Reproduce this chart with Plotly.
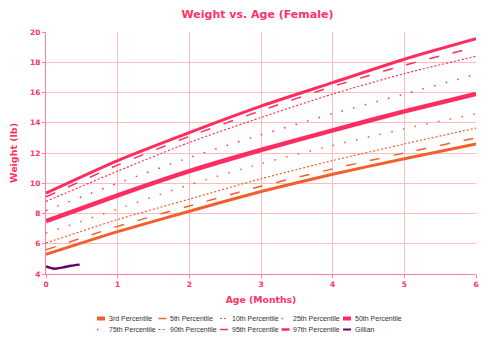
import plotly.graph_objects as go

months = [0, 1, 2, 3, 4, 5, 6]
p3 = [5.3, 6.8, 8.15, 9.45, 10.6, 11.62, 12.6]
p5 = [5.6, 7.15, 8.5, 9.8, 10.95, 12.0, 13.0]
p10 = [6.05, 7.6, 8.95, 10.3, 11.5, 12.6, 13.65]
p25 = [6.7, 8.3, 9.9, 11.3, 12.5, 13.6, 14.6]
p50 = [7.5, 9.2, 10.8, 12.2, 13.5, 14.75, 15.9]
p75 = [8.2, 10.0, 11.7, 13.2, 14.6, 15.9, 17.2]
p90 = [8.8, 10.8, 12.7, 14.35, 15.9, 17.25, 18.4]
p95 = [9.1, 11.2, 13.1, 14.8, 16.4, 17.8, 19.0]
p97 = [9.35, 11.5, 13.35, 15.1, 16.65, 18.2, 19.55]

gillian_age = [0, 0.05, 0.1, 0.15, 0.25, 0.35, 0.47]
gillian_wt = [4.5, 4.42, 4.36, 4.36, 4.45, 4.55, 4.62]

ORANGE = "#f0602e"
PINK = "#ff2d5f"
PURPLE = "#660066"
TXT = "#ff3366"

series = [
    ("3rd Percentile", months, p3, ORANGE, 3, "solid"),
    ("5th Percentile", months, p5, ORANGE, 1.5, "10px,14px"),
    ("10th Percentile", months, p10, ORANGE, 1.2, "2px,2px"),
    ("25th Percentile", months, p25, ORANGE, 1.5, "1.5px,10.5px"),
    ("50th Percentile", months, p50, PINK, 4.5, "solid"),
    ("75th Percentile", months, p75, PINK, 1.5, "1.5px,10.5px"),
    ("90th Percentile", months, p90, PINK, 1.2, "2px,2px"),
    ("95th Percentile", months, p95, PINK, 1.5, "10px,14px"),
    ("97th Percentile", months, p97, PINK, 3, "solid"),
    ("Gillian", gillian_age, gillian_wt, PURPLE, 2.5, "solid"),
]

# legend symbol styles (width in legend)
legend_w = [4, 1.5, 1.2, 1.5, 4, 1.5, 1.2, 1.5, 2.5, 2]

L, R, T, B = 46, 24, 32, 73
W, H = 500, 347
PW, PH = W - L - R, H - T - B

fig = go.Figure()
for name, xs, ys, col, w, dash in series:
    fig.add_trace(go.Scatter(x=xs, y=ys, mode="lines", name=name, showlegend=False,
                             line=dict(color=col, width=w, dash=dash, shape="spline", smoothing=0.6)))

# custom legend (2 rows x 5 columns) below the plot
col_x = [97, 158.5, 220, 281.5, 343]
row_y = [318.5, 329.5]
shapes, annots = [], []
px = lambda v: (v - L) / PW
py = lambda v: (H - B - v) / PH
for i, (name, xs, ys, col, w, dash) in enumerate(series):
    cx = col_x[i % 5]
    cy = row_y[i // 5]
    if dash.startswith("1.5px"):
        x0, x1 = cx, cx + 1.5
    else:
        x0, x1 = cx, cx + 8
    shapes.append(dict(type="line", xref="paper", yref="paper",
                       x0=px(x0), x1=px(x1), y0=py(cy), y1=py(cy),
                       line=dict(color=col, width=legend_w[i],
                                 dash="solid" if dash.startswith("1.5px") or dash.startswith("10px") else dash)))
    annots.append(dict(text=name, xref="paper", yref="paper", x=px(cx + 9.5), y=py(cy),
                       xanchor="left", yanchor="middle", showarrow=False,
                       font=dict(family="Liberation Sans", size=7, color="#333333")))

tickfont = dict(family="DejaVu Sans", size=7.5, color=TXT, weight="bold")
fig.update_layout(
    width=W, height=H,
    margin=dict(l=L, r=R, t=T, b=B),
    paper_bgcolor="white", plot_bgcolor="white",
    showlegend=False,
    title=dict(text="<b>Weight vs. Age (Female)</b>", x=0.515, xanchor="center", y=0.958, yanchor="middle",
               font=dict(family="DejaVu Sans", size=11, color=TXT)),
    xaxis=dict(range=[0, 6], dtick=1, showgrid=True, gridcolor="#ffbcbc", gridwidth=1,
               showline=True, linecolor="#ff8099", linewidth=1, zeroline=False,
               ticks="outside", ticklen=3, tickcolor="#ff8099", tickfont=tickfont,
               title=dict(text="<b>Age (Months)</b>", font=dict(family="DejaVu Sans", size=9.3, color=TXT), standoff=8)),
    yaxis=dict(range=[4, 20], dtick=2, showgrid=True, gridcolor="#ffbcbc", gridwidth=1,
               showline=True, linecolor="#ff8099", linewidth=1, zeroline=False,
               ticks="outside", ticklen=3, tickcolor="#ff8099", tickfont=tickfont,
               title=dict(text="<b>Weight (lb)</b>", font=dict(family="DejaVu Sans", size=9.5, color=TXT), standoff=10)),
    shapes=shapes, annotations=annots,
)
fig.write_html("out.html")
